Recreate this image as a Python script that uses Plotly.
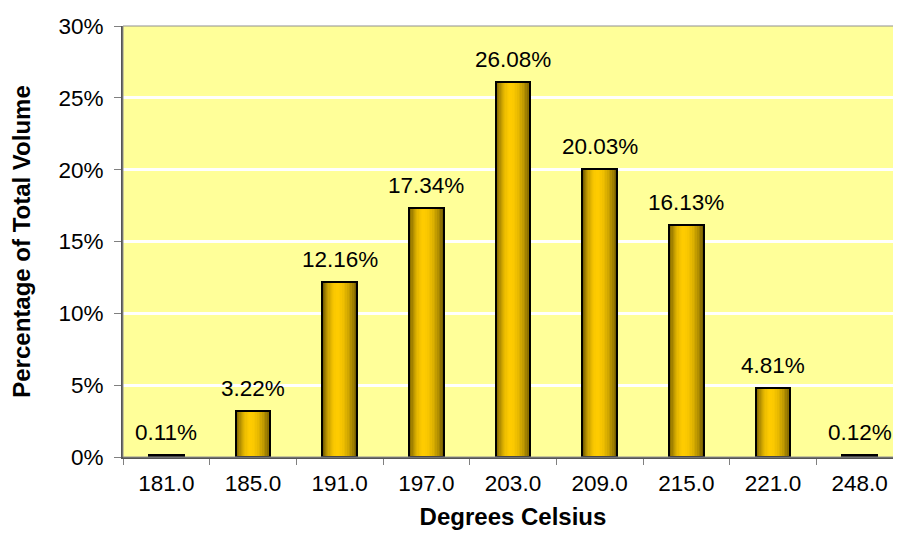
import plotly.graph_objects as go

# ---- data ----
categories = ["181.0", "185.0", "191.0", "197.0", "203.0", "209.0", "215.0", "221.0", "248.0"]
percent_values = [0.11, 3.22, 12.16, 17.34, 26.08, 20.03, 16.13, 4.81, 0.12]
y_tick_values = [0, 5, 10, 15, 20, 25, 30]
y_tick_labels = ["0%", "5%", "10%", "15%", "20%", "25%", "30%"]
value_labels = [f"{v:.2f}%" for v in percent_values]

FONT = "Liberation Sans, Arial, sans-serif"
FS = 22.5
BAR_W = 0.4
PEAK = 0.42          # horizontal position of the highlight inside a bar
EDGE = (120, 96, 0)  # dark edge colour
HI = (255, 204, 0)   # highlight colour
N_LAYERS = 12

fig = go.Figure()

# gradient-like bar fill built from nested overlaid bars (all from the same data)
for k in range(N_LAYERS):
    s = 1 - k / N_LAYERS
    f = 1 - s ** 2
    col = tuple(int(round(EDGE[j] + (HI[j] - EDGE[j]) * f)) for j in range(3))
    left = PEAK - PEAK * s
    fig.add_trace(go.Bar(
        x=categories, y=percent_values,
        width=BAR_W * s,
        offset=-BAR_W / 2 + BAR_W * left,
        marker=dict(color="rgb(%d,%d,%d)" % col, line=dict(width=0)),
        hoverinfo="skip", showlegend=False,
    ))

# outline
fig.add_trace(go.Bar(
    x=categories, y=percent_values,
    width=BAR_W, offset=-BAR_W / 2,
    marker=dict(color="rgba(0,0,0,0)", line=dict(color="black", width=2)),
    showlegend=False,
))

# value labels (category axes take serial index positions for annotations)
for i, (v, t) in enumerate(zip(percent_values, value_labels)):
    fig.add_annotation(x=i, y=v, text=t, showarrow=False, yanchor="bottom",
                       yshift=8, font=dict(family=FONT, size=FS, color="black"))

fig.update_layout(
    width=901, height=537,
    margin=dict(l=113, r=6, t=18, b=88),
    paper_bgcolor="white",
    plot_bgcolor="#FFFF99",
    barmode="overlay",
    bargap=0,
    font=dict(family=FONT, size=FS, color="black"),
)

fig.update_xaxes(
    type="category",
    categoryorder="array", categoryarray=categories,
    range=[-0.5, len(categories) - 0.5],
    showgrid=False,
    showline=True, linecolor="#555555", linewidth=2,
    ticks="outside", tickson="boundaries", ticklen=6, tickwidth=1, tickcolor="#808080",
    tickangle=0, ticklabelstandoff=5,
    tickfont=dict(family=FONT, size=FS, color="black"),
    title=dict(text="<b>Degrees Celsius</b>", font=dict(family=FONT, size=24, color="black"), standoff=13),
    fixedrange=True,
)
fig.update_yaxes(
    range=[0, 30],
    tickvals=y_tick_values, ticktext=y_tick_labels,
    showgrid=True, gridcolor="white", gridwidth=3,
    zeroline=False,
    showline=True, linecolor="#555555", linewidth=2,
    ticks="outside", ticklen=7, tickwidth=1, tickcolor="#808080",
    ticklabelstandoff=6,
    tickfont=dict(family=FONT, size=FS, color="black"),
    title=dict(text="<b>Percentage of Total Volume</b>", font=dict(family=FONT, size=24, color="black"), standoff=28),
    fixedrange=True,
)

# plot-area border (top / right edges in grey)
fig.add_shape(type="rect", xref="paper", yref="paper", x0=0, x1=1, y0=0, y1=1,
              line=dict(color="#909090", width=1), layer="above")

fig.write_html("out.html")
